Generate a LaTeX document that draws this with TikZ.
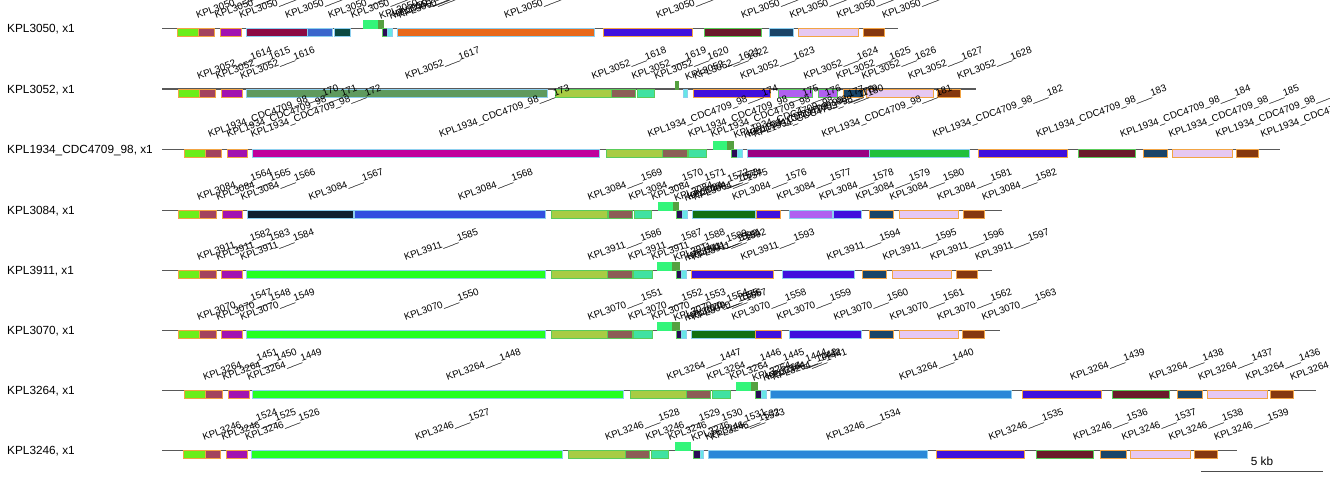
\documentclass[tikz,border=0pt]{standalone}
\usepackage{fontspec}
\setmainfont{Liberation Sans}
\definecolor{lgr}{HTML}{6BEE1A}
\definecolor{rose}{HTML}{A3435E}
\definecolor{purp}{HTML}{A212B0}
\definecolor{crim}{HTML}{8C0A44}
\definecolor{blueA}{HTML}{3A66CC}
\definecolor{dteal}{HTML}{0B4A42}
\definecolor{sgr}{HTML}{33F57A}
\definecolor{dgr}{HTML}{55A040}
\definecolor{dnav}{HTML}{2A0C55}
\definecolor{cyn}{HTML}{66E6E6}
\definecolor{oran}{HTML}{E8681A}
\definecolor{bvio}{HTML}{4010DD}
\definecolor{maro}{HTML}{6A1A2A}
\definecolor{navy}{HTML}{1A4468}
\definecolor{lav}{HTML}{E6C8F2}
\definecolor{brwn}{HTML}{86380F}
\definecolor{sage}{HTML}{5F9A5E}
\definecolor{ygr}{HTML}{A8CC44}
\definecolor{brnB}{HTML}{8C5E56}
\definecolor{teal}{HTML}{40E2A2}
\definecolor{lvio}{HTML}{B060F0}
\definecolor{mag}{HTML}{C0009C}
\definecolor{pmag}{HTML}{9A0082}
\definecolor{grB}{HTML}{22C03C}
\definecolor{dnavB}{HTML}{0F2030}
\definecolor{blueB}{HTML}{3050E0}
\definecolor{dkgr}{HTML}{127012}
\definecolor{bgr}{HTML}{22FF22}
\definecolor{blueC}{HTML}{2A88D8}
\definecolor{bor}{HTML}{F2A444}
\definecolor{bbl}{HTML}{8DCFEF}
\definecolor{bgn}{HTML}{5ACC5A}
\begin{document}
\begin{tikzpicture}[x=1pt,y=-1pt]

      \tikzset{gene/.style={draw, rectangle, inner sep=0pt, minimum height=8pt, line width=0.9pt},
               glab/.style={anchor=base west, xshift=10pt, yshift=9pt, rotate=20, inner sep=0pt, font=\fontsize{9.8}{10}\selectfont},
               glabl/.style={anchor=base west, xshift=15pt, yshift=11pt, rotate=20, inner sep=0pt, font=\fontsize{9.8}{10}\selectfont},
               track/.style={draw=black!65, line width=1.1pt},
               rowlab/.style={anchor=west, inner sep=0pt, font=\fontsize{11.8}{12}\selectfont}}
      \useasboundingbox (0,0) rectangle (1330,480);
%% Tracks
      \coordinate (t1a) at (162,28.5); \coordinate (t1b) at (898,28.5);
      \coordinate (t2a) at (162,89); \coordinate (t2b) at (976,89);
      \coordinate (t3a) at (162,149.5); \coordinate (t3b) at (1280,149.5);
      \coordinate (t4a) at (162,210.5); \coordinate (t4b) at (1002,210.5);
      \coordinate (t5a) at (162,270.5); \coordinate (t5b) at (992,270.5);
      \coordinate (t6a) at (162,330.5); \coordinate (t6b) at (1000,330.5);
      \coordinate (t7a) at (162,390.5); \coordinate (t7b) at (1316,390.5);
      \coordinate (t8a) at (162,450.5); \coordinate (t8b) at (1237,450.5);
      \draw[track] (t1a) -- (t1b);
      \draw[track] (t2a) -- (t2b);
      \draw[track] (t3a) -- (t3b);
      \draw[track] (t4a) -- (t4b);
      \draw[track] (t5a) -- (t5b);
      \draw[track] (t6a) -- (t6b);
      \draw[track] (t7a) -- (t7b);
      \draw[track] (t8a) -- (t8b);

%% Row names
      \node[rowlab] (n1) at (7,29.5) {KPL3050, x1};
      \node[rowlab] (n2) at (7,90) {KPL3052, x1};
      \node[rowlab] (n3) at (7,150.5) {KPL1934\_CDC4709\_98, x1};
      \node[rowlab] (n4) at (7,211.5) {KPL3084, x1};
      \node[rowlab] (n5) at (7,271.5) {KPL3911, x1};
      \node[rowlab] (n6) at (7,331.5) {KPL3070, x1};
      \node[rowlab] (n7) at (7,391.5) {KPL3264, x1};
      \node[rowlab] (n8) at (7,451.5) {KPL3246, x1};

%% KPL3050
      \node[gene, fill=lgr, draw=bor, minimum width=21, label={[glab]north:KPL3050\_\_\_\_}] (r1g1) at (187.5,32.5) {};
      \node[gene, fill=rose, draw=bor, minimum width=16, label={[glab]north:KPL3050\_\_\_\_}] (r1g2) at (206,32.5) {};
      \node[gene, fill=purp, draw=bor, minimum width=21, label={[glab]north:KPL3050\_\_\_\_}] (r1g3) at (230.5,32.5) {};
      \node[gene, fill=crim, draw=bbl, minimum width=61, label={[glab]north:KPL3050\_\_\_\_}] (r1g4) at (276.5,32.5) {};
      \node[gene, fill=blueA, draw=bbl, minimum width=25, label={[glab]north:KPL3050\_\_\_\_}] (r1g5) at (319.5,32.5) {};
      \node[gene, fill=dteal, draw=bbl, minimum width=16, label={[glab]north:KPL3050\_\_\_\_}] (r1g6) at (342,32.5) {};
      \node[gene, fill=sgr, draw=sgr, minimum width=15, label={[glab]south:KPL3050\_\_\_\_}] (r1g7) at (370.5,24.5) {};
      \node[gene, fill=dgr, draw=dgr, minimum width=5, label={[glab]south:KPL3050\_\_\_\_}] (r1g8) at (380.5,24.5) {};
      \node[gene, fill=dnav, draw=bgn, minimum width=5, label={[glab]north:KPL3050\_\_\_\_}] (r1g9) at (384.5,32.5) {};
      \node[gene, fill=cyn, draw=bbl, minimum width=5, label={[glab]north:KPL3050\_\_\_\_}] (r1g10) at (389.5,32.5) {};
      \node[gene, fill=oran, draw=bbl, minimum width=197, label={[glab]north:KPL3050\_\_\_\_}] (r1g11) at (495.5,32.5) {};
      \node[gene, fill=bvio, draw=bor, minimum width=89, label={[glab]north:KPL3050\_\_\_\_}] (r1g12) at (647.5,32.5) {};
      \node[gene, fill=maro, draw=bgn, minimum width=57, label={[glab]north:KPL3050\_\_\_\_}] (r1g13) at (732.5,32.5) {};
      \node[gene, fill=navy, draw=bbl, minimum width=24, label={[glab]north:KPL3050\_\_\_\_}] (r1g14) at (781,32.5) {};
      \node[gene, fill=lav, draw=bor, minimum width=60, label={[glab]north:KPL3050\_\_\_\_}] (r1g15) at (828,32.5) {};
      \node[gene, fill=brwn, draw=bor, minimum width=21, label={[glab]north:KPL3050\_\_\_\_}] (r1g16) at (873.5,32.5) {};

%% KPL3052
      \node[gene, fill=lgr, draw=bor, minimum width=21, label={[glab]north:KPL3052\_\_\_1614}] (r2g1) at (188.5,93) {};
      \node[gene, fill=rose, draw=bor, minimum width=16, label={[glab]north:KPL3052\_\_\_1615}] (r2g2) at (207,93) {};
      \node[gene, fill=purp, draw=bor, minimum width=21, label={[glab]north:KPL3052\_\_\_1616}] (r2g3) at (231.5,93) {};
      \node[gene, fill=sage, draw=bbl, minimum width=301, label={[glab]north:KPL3052\_\_\_1617}] (r2g4) at (396.5,93) {};
      \node[gene, fill=ygr, draw=bgn, minimum width=56, label={[glab]north:KPL3052\_\_\_1618}] (r2g5) at (583,93) {};
      \node[gene, fill=brnB, draw=bgn, minimum width=24, label={[glab]north:KPL3052\_\_\_1619}] (r2g6) at (623,93) {};
      \node[gene, fill=teal, draw=bgn, minimum width=17, label={[glab]north:KPL3052\_\_\_1620}] (r2g7) at (645.5,93) {};
      \node[gene, fill=dgr, draw=dgr, minimum width=3, label={[glab]south:KPL3052\_\_\_1621}] (r2g8) at (676.5,85) {};
      \node[gene, fill=cyn, draw=bbl, minimum width=4, label={[glab]north:KPL3052\_\_\_1622}] (r2g9) at (685,93) {};
      \node[gene, fill=bvio, draw=bor, minimum width=77, label={[glab]north:KPL3052\_\_\_1623}] (r2g10) at (731.5,93) {};
      \node[gene, fill=lvio, draw=bgn, minimum width=34, label={[glab]north:KPL3052\_\_\_1624}] (r2g11) at (795,93) {};
      \node[gene, fill=lvio, draw=bgn, minimum width=19, label={[glab]north:KPL3052\_\_\_1625}] (r2g12) at (827.5,93) {};
      \node[gene, fill=navy, draw=bor, minimum width=20, label={[glab]north:KPL3052\_\_\_1626}] (r2g13) at (853,93) {};
      \node[gene, fill=lav, draw=bor, minimum width=67, label={[glab]north:KPL3052\_\_\_1627}] (r2g14) at (899.5,93) {};
      \node[gene, fill=brwn, draw=bor, minimum width=23, label={[glab]north:KPL3052\_\_\_1628}] (r2g15) at (948.5,93) {};

%% KPL1934_CDC4709_98
      \node[gene, fill=lgr, draw=bor, minimum width=21, label={[glabl]north:KPL1934\_CDC4709\_98\_\_\_170}] (r3g1) at (194.5,153.5) {};
      \node[gene, fill=rose, draw=bor, minimum width=16, label={[glabl]north:KPL1934\_CDC4709\_98\_\_\_171}] (r3g2) at (213,153.5) {};
      \node[gene, fill=purp, draw=bor, minimum width=20, label={[glabl]north:KPL1934\_CDC4709\_98\_\_\_172}] (r3g3) at (237,153.5) {};
      \node[gene, fill=mag, draw=bbl, minimum width=347, label={[glabl]north:KPL1934\_CDC4709\_98\_\_\_173}] (r3g4) at (425.5,153.5) {};
      \node[gene, fill=ygr, draw=bgn, minimum width=56, label={[glabl]north:KPL1934\_CDC4709\_98\_\_\_174}] (r3g5) at (634,153.5) {};
      \node[gene, fill=brnB, draw=bgn, minimum width=25, label={[glabl]north:KPL1934\_CDC4709\_98\_\_\_175}] (r3g6) at (674.5,153.5) {};
      \node[gene, fill=teal, draw=bgn, minimum width=18, label={[glabl]north:KPL1934\_CDC4709\_98\_\_\_176}] (r3g7) at (697,153.5) {};
      \node[gene, fill=sgr, draw=sgr, minimum width=14, label={[glabl]south:KPL1934\_CDC4709\_98\_\_\_177}] (r3g8) at (720,145.5) {};
      \node[gene, fill=dgr, draw=dgr, minimum width=6, label={[glabl]south:KPL1934\_CDC4709\_98\_\_\_178}] (r3g9) at (730,145.5) {};
      \node[gene, fill=dnav, draw=bgn, minimum width=6, label={[glabl]north:KPL1934\_CDC4709\_98\_\_\_179}] (r3g10) at (734,153.5) {};
      \node[gene, fill=cyn, draw=bbl, minimum width=5, label={[glabl]north:KPL1934\_CDC4709\_98\_\_\_180}] (r3g11) at (739.5,153.5) {};
      \node[gene, fill=pmag, draw=bbl, minimum width=122, label={[glabl]north:KPL1934\_CDC4709\_98\_\_\_181}] (r3g12) at (808,153.5) {};
      \node[gene, fill=grB, draw=bbl, minimum width=100, label={[glabl]north:KPL1934\_CDC4709\_98\_\_\_182}] (r3g13) at (919,153.5) {};
      \node[gene, fill=bvio, draw=bor, minimum width=89, label={[glabl]north:KPL1934\_CDC4709\_98\_\_\_183}] (r3g14) at (1022.5,153.5) {};
      \node[gene, fill=maro, draw=bgn, minimum width=57, label={[glabl]north:KPL1934\_CDC4709\_98\_\_\_184}] (r3g15) at (1106.5,153.5) {};
      \node[gene, fill=navy, draw=bor, minimum width=24, label={[glabl]north:KPL1934\_CDC4709\_98\_\_\_185}] (r3g16) at (1155,153.5) {};
      \node[gene, fill=lav, draw=bor, minimum width=60, label={[glabl]north:KPL1934\_CDC4709\_98\_\_\_186}] (r3g17) at (1202,153.5) {};
      \node[gene, fill=brwn, draw=bor, minimum width=22, label={[glabl]north:KPL1934\_CDC4709\_98\_\_\_187}] (r3g18) at (1247,153.5) {};

%% KPL3084
      \node[gene, fill=lgr, draw=bor, minimum width=21, label={[glab]north:KPL3084\_\_\_1564}] (r4g1) at (188.5,214.5) {};
      \node[gene, fill=rose, draw=bor, minimum width=17, label={[glab]north:KPL3084\_\_\_1565}] (r4g2) at (207.5,214.5) {};
      \node[gene, fill=purp, draw=bor, minimum width=20, label={[glab]north:KPL3084\_\_\_1566}] (r4g3) at (232,214.5) {};
      \node[gene, fill=dnavB, draw=bbl, minimum width=106, label={[glab]north:KPL3084\_\_\_1567}] (r4g4) at (300,214.5) {};
      \node[gene, fill=blueB, draw=bbl, minimum width=191, label={[glab]north:KPL3084\_\_\_1568}] (r4g5) at (449.5,214.5) {};
      \node[gene, fill=ygr, draw=bgn, minimum width=56, label={[glab]north:KPL3084\_\_\_1569}] (r4g6) at (579,214.5) {};
      \node[gene, fill=brnB, draw=bgn, minimum width=24, label={[glab]north:KPL3084\_\_\_1570}] (r4g7) at (620,214.5) {};
      \node[gene, fill=teal, draw=bgn, minimum width=17, label={[glab]north:KPL3084\_\_\_1571}] (r4g8) at (642.5,214.5) {};
      \node[gene, fill=sgr, draw=sgr, minimum width=15, label={[glab]south:KPL3084\_\_\_1572}] (r4g9) at (665.5,206.5) {};
      \node[gene, fill=dgr, draw=dgr, minimum width=5, label={[glab]south:KPL3084\_\_\_1573}] (r4g10) at (675.5,206.5) {};
      \node[gene, fill=dnav, draw=bgn, minimum width=6, label={[glab]north:KPL3084\_\_\_1574}] (r4g11) at (679,214.5) {};
      \node[gene, fill=cyn, draw=bbl, minimum width=5, label={[glab]north:KPL3084\_\_\_1575}] (r4g12) at (684.5,214.5) {};
      \node[gene, fill=dkgr, draw=bbl, minimum width=63, label={[glab]north:KPL3084\_\_\_1576}] (r4g13) at (723.5,214.5) {};
      \node[gene, fill=bvio, draw=bor, minimum width=24, label={[glab]north:KPL3084\_\_\_1577}] (r4g14) at (768,214.5) {};
      \node[gene, fill=lvio, draw=bbl, minimum width=43, label={[glab]north:KPL3084\_\_\_1578}] (r4g15) at (810.5,214.5) {};
      \node[gene, fill=bvio, draw=bbl, minimum width=28, label={[glab]north:KPL3084\_\_\_1579}] (r4g16) at (847,214.5) {};
      \node[gene, fill=navy, draw=bor, minimum width=24, label={[glab]north:KPL3084\_\_\_1580}] (r4g17) at (881,214.5) {};
      \node[gene, fill=lav, draw=bor, minimum width=59, label={[glab]north:KPL3084\_\_\_1581}] (r4g18) at (928.5,214.5) {};
      \node[gene, fill=brwn, draw=bor, minimum width=21, label={[glab]north:KPL3084\_\_\_1582}] (r4g19) at (973.5,214.5) {};

%% KPL3911
      \node[gene, fill=lgr, draw=bor, minimum width=21, label={[glab]north:KPL3911\_\_\_1582}] (r5g1) at (188.5,274.5) {};
      \node[gene, fill=rose, draw=bor, minimum width=17, label={[glab]north:KPL3911\_\_\_1583}] (r5g2) at (207.5,274.5) {};
      \node[gene, fill=purp, draw=bor, minimum width=21, label={[glab]north:KPL3911\_\_\_1584}] (r5g3) at (231.5,274.5) {};
      \node[gene, fill=bgr, draw=bbl, minimum width=299, label={[glab]north:KPL3911\_\_\_1585}] (r5g4) at (395.5,274.5) {};
      \node[gene, fill=ygr, draw=bgn, minimum width=56, label={[glab]north:KPL3911\_\_\_1586}] (r5g5) at (579,274.5) {};
      \node[gene, fill=brnB, draw=bgn, minimum width=25, label={[glab]north:KPL3911\_\_\_1587}] (r5g6) at (619.5,274.5) {};
      \node[gene, fill=teal, draw=bgn, minimum width=19, label={[glab]north:KPL3911\_\_\_1588}] (r5g7) at (642.5,274.5) {};
      \node[gene, fill=sgr, draw=sgr, minimum width=14.5, label={[glab]south:KPL3911\_\_\_1589}] (r5g8) at (664.75,266.5) {};
      \node[gene, fill=dgr, draw=dgr, minimum width=7, label={[glab]south:KPL3911\_\_\_1590}] (r5g9) at (675.5,266.5) {};
      \node[gene, fill=dnav, draw=bgn, minimum width=5, label={[glab]north:KPL3911\_\_\_1591}] (r5g10) at (678.5,274.5) {};
      \node[gene, fill=cyn, draw=bbl, minimum width=5, label={[glab]north:KPL3911\_\_\_1592}] (r5g11) at (683.5,274.5) {};
      \node[gene, fill=bvio, draw=bor, minimum width=82, label={[glab]north:KPL3911\_\_\_1593}] (r5g12) at (732,274.5) {};
      \node[gene, fill=bvio, draw=bbl, minimum width=72, label={[glab]north:KPL3911\_\_\_1594}] (r5g13) at (818,274.5) {};
      \node[gene, fill=navy, draw=bor, minimum width=24, label={[glab]north:KPL3911\_\_\_1595}] (r5g14) at (874,274.5) {};
      \node[gene, fill=lav, draw=bor, minimum width=59, label={[glab]north:KPL3911\_\_\_1596}] (r5g15) at (921.5,274.5) {};
      \node[gene, fill=brwn, draw=bor, minimum width=21, label={[glab]north:KPL3911\_\_\_1597}] (r5g16) at (966.5,274.5) {};

%% KPL3070
      \node[gene, fill=lgr, draw=bor, minimum width=21, label={[glab]north:KPL3070\_\_\_1547}] (r6g1) at (188.5,334.5) {};
      \node[gene, fill=rose, draw=bor, minimum width=17, label={[glab]north:KPL3070\_\_\_1548}] (r6g2) at (207.5,334.5) {};
      \node[gene, fill=purp, draw=bor, minimum width=21, label={[glab]north:KPL3070\_\_\_1549}] (r6g3) at (231.5,334.5) {};
      \node[gene, fill=bgr, draw=bbl, minimum width=299, label={[glab]north:KPL3070\_\_\_1550}] (r6g4) at (395.5,334.5) {};
      \node[gene, fill=ygr, draw=bgn, minimum width=56, label={[glab]north:KPL3070\_\_\_1551}] (r6g5) at (579,334.5) {};
      \node[gene, fill=brnB, draw=bgn, minimum width=25, label={[glab]north:KPL3070\_\_\_1552}] (r6g6) at (619.5,334.5) {};
      \node[gene, fill=teal, draw=bgn, minimum width=19, label={[glab]north:KPL3070\_\_\_1553}] (r6g7) at (642.5,334.5) {};
      \node[gene, fill=sgr, draw=sgr, minimum width=14.5, label={[glab]south:KPL3070\_\_\_1554}] (r6g8) at (664.75,326.5) {};
      \node[gene, fill=dgr, draw=dgr, minimum width=7, label={[glab]south:KPL3070\_\_\_1555}] (r6g9) at (675.5,326.5) {};
      \node[gene, fill=dnav, draw=bgn, minimum width=5, label={[glab]north:KPL3070\_\_\_1556}] (r6g10) at (678.5,334.5) {};
      \node[gene, fill=cyn, draw=bbl, minimum width=5, label={[glab]north:KPL3070\_\_\_1557}] (r6g11) at (683.5,334.5) {};
      \node[gene, fill=dkgr, draw=bbl, minimum width=64, label={[glab]north:KPL3070\_\_\_1558}] (r6g12) at (723,334.5) {};
      \node[gene, fill=bvio, draw=bor, minimum width=26, label={[glab]north:KPL3070\_\_\_1559}] (r6g13) at (768,334.5) {};
      \node[gene, fill=bvio, draw=bbl, minimum width=72, label={[glab]north:KPL3070\_\_\_1560}] (r6g14) at (825,334.5) {};
      \node[gene, fill=navy, draw=bor, minimum width=24, label={[glab]north:KPL3070\_\_\_1561}] (r6g15) at (881,334.5) {};
      \node[gene, fill=lav, draw=bor, minimum width=59, label={[glab]north:KPL3070\_\_\_1562}] (r6g16) at (928.5,334.5) {};
      \node[gene, fill=brwn, draw=bor, minimum width=22, label={[glab]north:KPL3070\_\_\_1563}] (r6g17) at (973,334.5) {};

%% KPL3264
      \node[gene, fill=lgr, draw=bor, minimum width=21, label={[glab]north:KPL3264\_\_\_1451}] (r7g1) at (194.5,394.5) {};
      \node[gene, fill=rose, draw=bor, minimum width=17, label={[glab]north:KPL3264\_\_\_1450}] (r7g2) at (213.5,394.5) {};
      \node[gene, fill=purp, draw=bor, minimum width=21, label={[glab]north:KPL3264\_\_\_1449}] (r7g3) at (238.5,394.5) {};
      \node[gene, fill=bgr, draw=bbl, minimum width=371, label={[glab]north:KPL3264\_\_\_1448}] (r7g4) at (437.5,394.5) {};
      \node[gene, fill=ygr, draw=bgn, minimum width=56, label={[glab]north:KPL3264\_\_\_1447}] (r7g5) at (658,394.5) {};
      \node[gene, fill=brnB, draw=bgn, minimum width=24, label={[glab]north:KPL3264\_\_\_1446}] (r7g6) at (698,394.5) {};
      \node[gene, fill=teal, draw=bgn, minimum width=18, label={[glab]north:KPL3264\_\_\_1445}] (r7g7) at (721,394.5) {};
      \node[gene, fill=sgr, draw=sgr, minimum width=15, label={[glab]south:KPL3264\_\_\_1444}] (r7g8) at (743.5,386.5) {};
      \node[gene, fill=dgr, draw=dgr, minimum width=6, label={[glab]south:KPL3264\_\_\_1443}] (r7g9) at (754,386.5) {};
      \node[gene, fill=dnav, draw=bgn, minimum width=6, label={[glab]north:KPL3264\_\_\_1442}] (r7g10) at (758,394.5) {};
      \node[gene, fill=cyn, draw=bbl, minimum width=5, label={[glab]north:KPL3264\_\_\_1441}] (r7g11) at (763.5,394.5) {};
      \node[gene, fill=blueC, draw=bbl, minimum width=241, label={[glab]north:KPL3264\_\_\_1440}] (r7g12) at (890.5,394.5) {};
      \node[gene, fill=bvio, draw=bor, minimum width=79, label={[glab]north:KPL3264\_\_\_1439}] (r7g13) at (1061.5,394.5) {};
      \node[gene, fill=maro, draw=bgn, minimum width=57, label={[glab]north:KPL3264\_\_\_1438}] (r7g14) at (1140.5,394.5) {};
      \node[gene, fill=navy, draw=bor, minimum width=25, label={[glab]north:KPL3264\_\_\_1437}] (r7g15) at (1189.5,394.5) {};
      \node[gene, fill=lav, draw=bor, minimum width=60, label={[glab]north:KPL3264\_\_\_1436}] (r7g16) at (1237,394.5) {};
      \node[gene, fill=brwn, draw=bor, minimum width=23, label={[glab]north:KPL3264\_\_\_1435}] (r7g17) at (1281.5,394.5) {};

%% KPL3246
      \node[gene, fill=lgr, draw=bor, minimum width=22, label={[glab]north:KPL3246\_\_\_1524}] (r8g1) at (194,454.5) {};
      \node[gene, fill=rose, draw=bor, minimum width=15.5, label={[glab]north:KPL3246\_\_\_1525}] (r8g2) at (212.75,454.5) {};
      \node[gene, fill=purp, draw=bor, minimum width=21, label={[glab]north:KPL3246\_\_\_1526}] (r8g3) at (236.5,454.5) {};
      \node[gene, fill=bgr, draw=bbl, minimum width=311, label={[glab]north:KPL3246\_\_\_1527}] (r8g4) at (406.5,454.5) {};
      \node[gene, fill=ygr, draw=bgn, minimum width=57, label={[glab]north:KPL3246\_\_\_1528}] (r8g5) at (596.5,454.5) {};
      \node[gene, fill=brnB, draw=bgn, minimum width=24, label={[glab]north:KPL3246\_\_\_1529}] (r8g6) at (637,454.5) {};
      \node[gene, fill=teal, draw=bgn, minimum width=17, label={[glab]north:KPL3246\_\_\_1530}] (r8g7) at (659.5,454.5) {};
      \node[gene, fill=sgr, draw=sgr, minimum width=15, label={[glab]south:KPL3246\_\_\_1531}] (r8g8) at (682.5,446.5) {};
      \node[gene, fill=dnav, draw=bgn, minimum width=7, label={[glab]north:KPL3246\_\_\_1532}] (r8g9) at (696.5,454.5) {};
      \node[gene, fill=cyn, draw=bbl, minimum width=3, label={[glab]north:KPL3246\_\_\_1533}] (r8g10) at (701.5,454.5) {};
      \node[gene, fill=blueC, draw=bbl, minimum width=219, label={[glab]north:KPL3246\_\_\_1534}] (r8g11) at (817.5,454.5) {};
      \node[gene, fill=bvio, draw=bor, minimum width=88, label={[glab]north:KPL3246\_\_\_1535}] (r8g12) at (980,454.5) {};
      \node[gene, fill=maro, draw=bgn, minimum width=57, label={[glab]north:KPL3246\_\_\_1536}] (r8g13) at (1064.5,454.5) {};
      \node[gene, fill=navy, draw=bor, minimum width=26, label={[glab]north:KPL3246\_\_\_1537}] (r8g14) at (1113,454.5) {};
      \node[gene, fill=lav, draw=bor, minimum width=60, label={[glab]north:KPL3246\_\_\_1538}] (r8g15) at (1160,454.5) {};
      \node[gene, fill=brwn, draw=bor, minimum width=23, label={[glab]north:KPL3246\_\_\_1539}] (r8g16) at (1205.5,454.5) {};

%Scale bar
      \coordinate (sb1) at (1201,471); \coordinate (sb2) at (1323,471);
      \draw[black!70, line width=1pt] (sb1) -- (sb2) node[midway, above=1.5pt, text=black, font=\fontsize{11.8}{12}\selectfont] (sbl) {5 kb};

	\end{tikzpicture}
\end{document}
